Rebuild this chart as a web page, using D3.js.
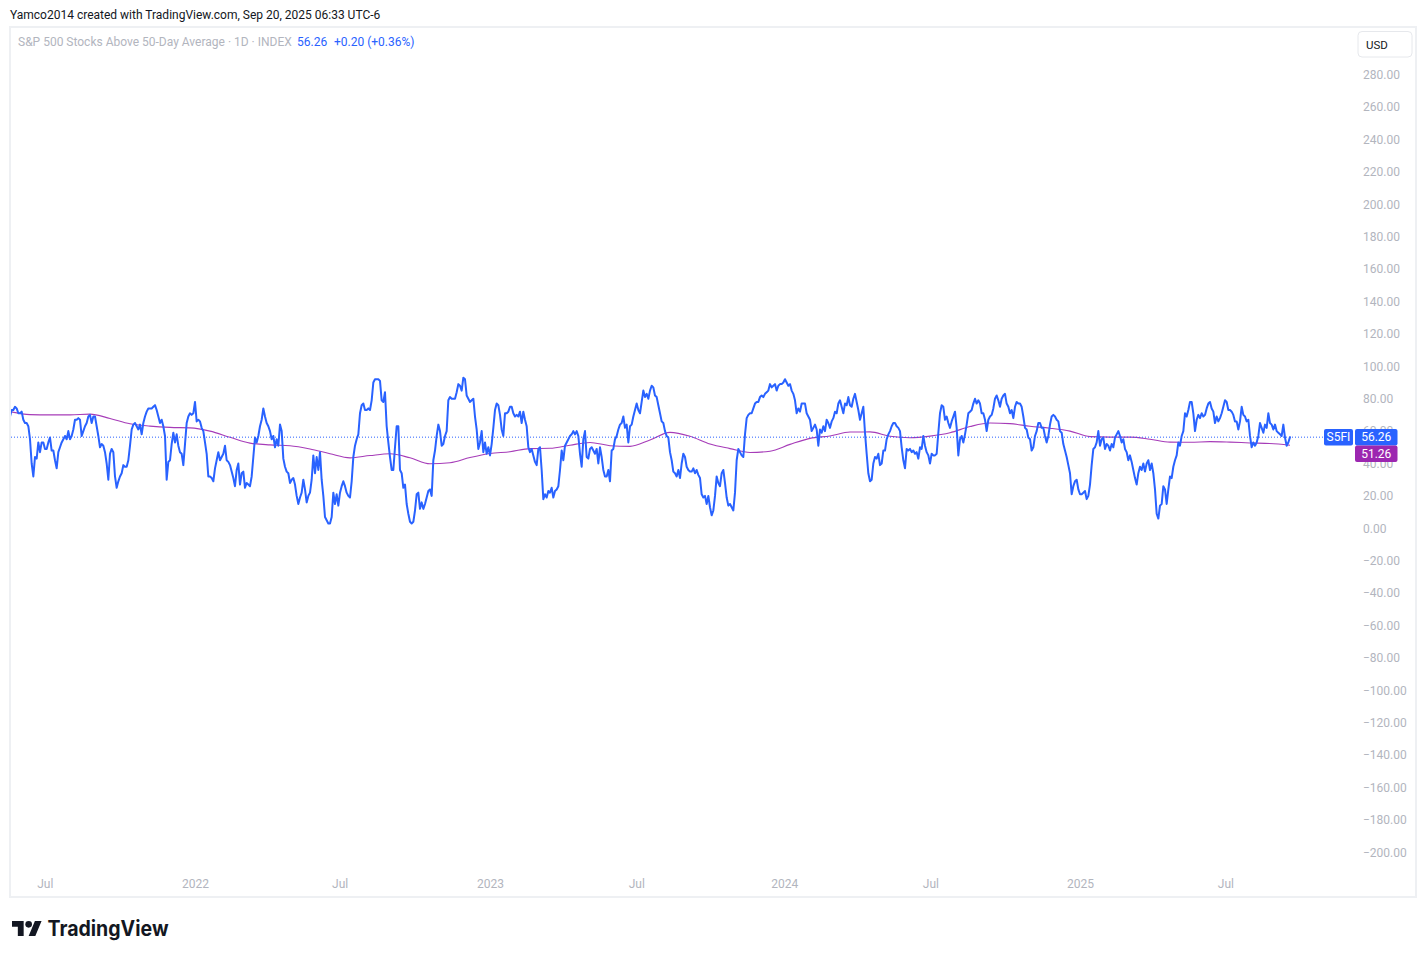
<!DOCTYPE html>
<html>
<head>
<meta charset="utf-8">
<script src="https://cdn.jsdelivr.net/npm/d3@7"></script>
<style>
  html, body { margin: 0; padding: 0; background: #ffffff; }
  svg { display: block; font-family: Roboto, "Noto Sans", sans-serif; }
</style>
</head>
<body>
<svg id="chart" width="1426" height="958"></svg>
<script>
// ---------------- DATA ----------------
const seriesStart = "2021-05-19";
const seriesEnd = "2025-09-19";

// S&P 500 Stocks Above 50-Day Average (S5FI), evenly spaced in time
const s5fiPart1 = [
  69,73,73,75,74,71,71,72,67,65,
  65,63,55,40,32,44,43,53,47,53,
  53,49,49,53,56,48,48,42,37,47,
  50,53,55,57,55,60,55,57,61,67,
  67,68,67,57,60,63,65,69,70,65,
  69,69,63,57,50,52,51,47,40,30,
  46,49,47,32,25,29,32,34,39,38,
  38,42,51,61,64,65,63,61,64,58,
  65,69,72,74,74,74,75,76,73,69,
  65,67,63,57,30,41,42,52,59,53,
  58,51,47,46,39,52,65,69,71,70,
  71,78,66,67,66,62,60,53,46,32,
  32,31,29,37,42,47,42,44,46,51,
  42,41,39,35,31,26,36,40,27,34,
  35,25,28,27,26,32,44,56,53,57,
  63,67,74,69,65,63,60,55,57,50,
  55,51,64,60,43,38,35,34,28,30,
  31,27,20,15,19,22,30,24,16,20,
  22,30,45,34,44,36,47,30,20,7,
  5,3,3,7,22,15,21,14,22,26,
  29,26,22,20,19,29,44,51,55,58,
  71
];
const s5fiPart2 = [
  76,77,73,73,74,73,79,90,92,92,
  92,91,79,78,84,63,53,44,36,36,
  50,63,63,36,34,25,27,15,9,4,
  3,4,11,21,22,12,16,12,15,19,
  23,24,20,42,48,57,64,60,51,52,
  57,60,79,81,80,80,80,84,89,88,
  85,93,92,82,80,78,79,80,69,61,
  49,53,60,47,53,46,50,45,52,62,
  73,77,76,70,61,57,71,71,72,75,
  75,71,69,70,69,72,65,72,67,63,
  50,47,49,45,41,39,49,50,36,18,
  21,19,23,22,25,19,23,24,26,36,
  48,42,51,53,55,57,58,60,58,60,
  57,46,38,55,60,44,43,49,50,48,
  46,49,40,50,44,36,32,32,36,29,
  48,49,55,57,61,64,65,69,62,64,
  53,63,64,69,73,77,73,71,78,85,
  81,83,80,85,88,87,82,81,76,71,
  66,65,60,57,56,47,42,35,34,32,
  36,31,40,46,44,38,36,35,35,37,
  34,36,33,31,21,19,20,15,20,13
];
const s5fiPart3 = [
  8,11,20,32,28,26,34,36,28,19,
  14,15,13,11,22,42,49,47,45,44,
  58,68,70,71,71,74,77,78,78,81,
  82,81,83,84,85,89,87,88,89,85,
  88,89,89,90,92,90,88,89,85,83,
  79,71,74,72,77,77,77,71,69,67,
  60,62,64,61,51,61,59,63,60,67,
  65,62,66,68,72,71,77,79,75,71,
  77,76,81,76,75,80,83,78,73,67,
  71,75,59,46,34,29,30,40,44,43,
  46,39,40,48,48,55,58,60,63,65,
  65,63,62,60,50,42,37,49,48,49,
  47,48,46,47,43,50,49,57,51,47,
  45,40,46,45,45,46,59,71,76,75,
  67,69,65,62,66,69,72,62,45,55,
  57,53,58,64,71,72,73,77,80,77,
  79,77,71,71,67,60,67,69,70,74,
  80,82,79,75,80,82,83,77,75,71,
  73,68,75,78,77,77,75,69,62,61,
  56,55,48,50,57,60,65,65,62,62,
  57,53,57,64,69,70,69,67,66,60
];
const s5fiPart4 = [
  59,52,48,44,39,34,21,26,29,30,
  24,21,21,22,23,18,20,27,39,49,
  50,53,60,51,55,56,49,52,51,48,
  52,50,56,58,60,57,53,55,49,47,
  42,45,41,36,31,27,34,38,36,40,
  35,40,42,36,40,34,24,9,6,14,
  15,26,24,15,24,32,31,38,42,45,
  53,51,57,60,71,69,73,78,78,71,
  60,67,70,68,71,69,70,74,77,78,
  74,72,65,69,66,68,71,75,79,78,
  73,73,72,70,66,66,61,66,75,70,
  69,66,67,57,50,53,51,53,57,65,
  62,59,64,62,71,65,64,61,64,60,
  59,58,57,64,56,51,53,56.26
];

// Moving average (purple), evenly spaced in time over the same period
const maValues = [
  72,70.2,70,70,70.5,67.8,64.5,63.1,62.3,62,
  60,56.2,52.6,51.5,51,49,46,43.5,44.9,46,
  43.5,39.8,40.5,43.7,46.2,47.3,49.2,49.4,51.3,53,
  51,50.6,54.5,59.2,56.8,52,49.2,46.8,47.6,51.8,
  55.5,57,59.4,59.5,56.8,55.9,56.9,59,62.8,65,
  64.6,63,61.8,60,56.6,56.3,56.3,55,53.2,53.1,
  53.5,53.2,52.7,52.3,51.26
];

const lastValue = 56.26;
const lastMA = 51.26;
const symbol = "S5FI";

const priceTicks = [-200,-180,-160,-140,-120,-100,-80,-60,-40,-20,0,20,40,60,80,100,120,140,160,180,200,220,240,260,280];
const timeTickDates = ["2021-07-01","2022-01-03","2022-07-01","2023-01-03","2023-07-03","2024-01-02","2024-07-01","2025-01-02","2025-07-01"];
const timeTickLabels = ["Jul","2022","Jul","2023","Jul","2024","Jul","2025","Jul"];

const headerText = "Yamco2014 created with TradingView.com, Sep 20, 2025 06:33 UTC-6";
const legendTitle = "S&P 500 Stocks Above 50-Day Average · 1D · INDEX";
const legendValue = "56.26";
const legendChange = "+0.20 (+0.36%)";

// ---------------- CHART ----------------
const parse = d3.timeParse("%Y-%m-%d");
const t0 = parse(seriesStart), t1 = parse(seriesEnd);
const s5fi = [].concat(s5fiPart1, s5fiPart2, s5fiPart3, s5fiPart4);
const evenDates = n => d3.range(n).map(i => new Date(+t0 + i * (t1 - t0) / (n - 1)));
const mainData = evenDates(s5fi.length).map((d, i) => ({date: d, v: s5fi[i]}));
const maData = evenDates(maValues.length).map((d, i) => ({date: d, v: maValues[i]}));

const BLUE = "#2962ff", PURPLE = "#9c27b0", AXIS_TXT = "#b2b5be";

const svg = d3.select("#chart");
const x = d3.scaleTime().domain([t0, t1]).range([10, 1290]);
const y = d3.scaleLinear().domain([-200, 280]).range([852.3, 74.7]);

// header
svg.append("text").attr("x", 10).attr("y", 18.5)
  .attr("font-size", 12).attr("fill", "#131722").text(headerText);

// pane border
svg.append("rect").attr("x", 10).attr("y", 27).attr("width", 1406).attr("height", 870)
  .attr("fill", "none").attr("stroke", "#eef0f3").attr("stroke-width", 2);

// legend
svg.append("text").attr("x", 18).attr("y", 46).attr("font-size", 12)
  .attr("fill", AXIS_TXT).text(legendTitle);
svg.append("text").attr("x", 297).attr("y", 46).attr("font-size", 12)
  .attr("fill", BLUE).text(legendValue);
svg.append("text").attr("x", 334).attr("y", 46).attr("font-size", 12)
  .attr("fill", BLUE).text(legendChange);

// USD box
svg.append("rect").attr("x", 1358).attr("y", 31.5).attr("width", 54).attr("height", 25.5)
  .attr("rx", 4).attr("fill", "#fff").attr("stroke", "#e6e8ec").attr("stroke-width", 1);
svg.append("text").attr("x", 1377).attr("y", 48.5).attr("text-anchor", "middle")
  .attr("font-size", 11.5).attr("fill", "#131722").text("USD");

// price axis
const fmt = d => (d < 0 ? "\u2212" : "") + Math.abs(d).toFixed(2);
const yAxis = d3.axisRight(y).tickValues(priceTicks).tickFormat(fmt).tickSize(0).tickPadding(0);
const gy = svg.append("g").attr("transform", "translate(1363,0)").call(yAxis);
gy.select(".domain").remove();
gy.selectAll("text").attr("font-size", 12).attr("fill", AXIS_TXT)
  .attr("font-family", "Roboto, sans-serif").attr("x", 0);

// time axis
const xAxis = d3.axisBottom(x).tickValues(timeTickDates.map(parse))
  .tickFormat((d, i) => timeTickLabels[i]).tickSize(0).tickPadding(0);
const gx = svg.append("g").attr("transform", "translate(0,880)").call(xAxis);
gx.select(".domain").remove();
gx.selectAll("text").attr("font-size", 12).attr("fill", AXIS_TXT)
  .attr("font-family", "Roboto, sans-serif").attr("dy", "0.35em").attr("y", 4);

// clip for plot
svg.append("clipPath").attr("id", "plotClip").append("rect")
  .attr("x", 11).attr("y", 28).attr("width", 1340).attr("height", 846);
const plot = svg.append("g").attr("clip-path", "url(#plotClip)");

// MA line
plot.append("path").datum(maData)
  .attr("fill", "none").attr("stroke", PURPLE).attr("stroke-width", 1.1).attr("stroke-opacity", 0.9)
  .attr("d", d3.line().x(d => x(d.date)).y(d => y(d.v)).curve(d3.curveMonotoneX));

// main line
plot.append("path").datum(mainData)
  .attr("fill", "none").attr("stroke", BLUE).attr("stroke-width", 2)
  .attr("stroke-linejoin", "round").attr("stroke-linecap", "round")
  .attr("d", d3.line().x(d => x(d.date)).y(d => y(d.v)));

// last value dotted line
const yLast = y(lastValue);
svg.append("line").attr("x1", 11).attr("x2", 1324).attr("y1", yLast).attr("y2", yLast)
  .attr("stroke", BLUE).attr("stroke-width", 1).attr("stroke-dasharray", "1,2");

// labels on price scale
const boxH = 16.5;
const gLab = svg.append("g").attr("font-size", 12).attr("fill", "#fff");
gLab.append("rect").attr("x", 1324).attr("y", yLast - boxH / 2).attr("width", 29).attr("height", boxH)
  .attr("rx", 2).attr("fill", BLUE);
gLab.append("text").attr("x", 1338.5).attr("y", yLast).attr("dy", "0.35em")
  .attr("text-anchor", "middle").text(symbol);
gLab.append("rect").attr("x", 1355).attr("y", yLast - boxH / 2).attr("width", 42.5).attr("height", boxH)
  .attr("rx", 2).attr("fill", BLUE);
gLab.append("text").attr("x", 1376.3).attr("y", yLast).attr("dy", "0.35em")
  .attr("text-anchor", "middle").text(lastValue.toFixed(2));
const maTop = Math.max(y(lastMA) - boxH / 2, yLast + boxH / 2);
gLab.append("rect").attr("x", 1355).attr("y", maTop).attr("width", 42.5).attr("height", boxH)
  .attr("rx", 2).attr("fill", PURPLE);
gLab.append("text").attr("x", 1376.3).attr("y", maTop + boxH / 2).attr("dy", "0.35em")
  .attr("text-anchor", "middle").text(lastMA.toFixed(2));

// TradingView logo
const logo = svg.append("g").attr("transform", "translate(12,917.7) scale(0.833)");
logo.append("path").attr("d", "M14 22H7V11H0V4h14v18zM28 22h-8l7.5-18h8L28 22z").attr("fill", "#131722");
logo.append("circle").attr("cx", 20).attr("cy", 8).attr("r", 4).attr("fill", "#131722");
svg.append("text").attr("x", 47.5).attr("y", 936).attr("font-size", 21).attr("font-weight", 700)
  .attr("font-family", "Inter, Roboto, sans-serif").attr("fill", "#131722")
  .attr("textLength", 121).attr("lengthAdjust", "spacingAndGlyphs").text("TradingView");
</script>
</body>
</html>
